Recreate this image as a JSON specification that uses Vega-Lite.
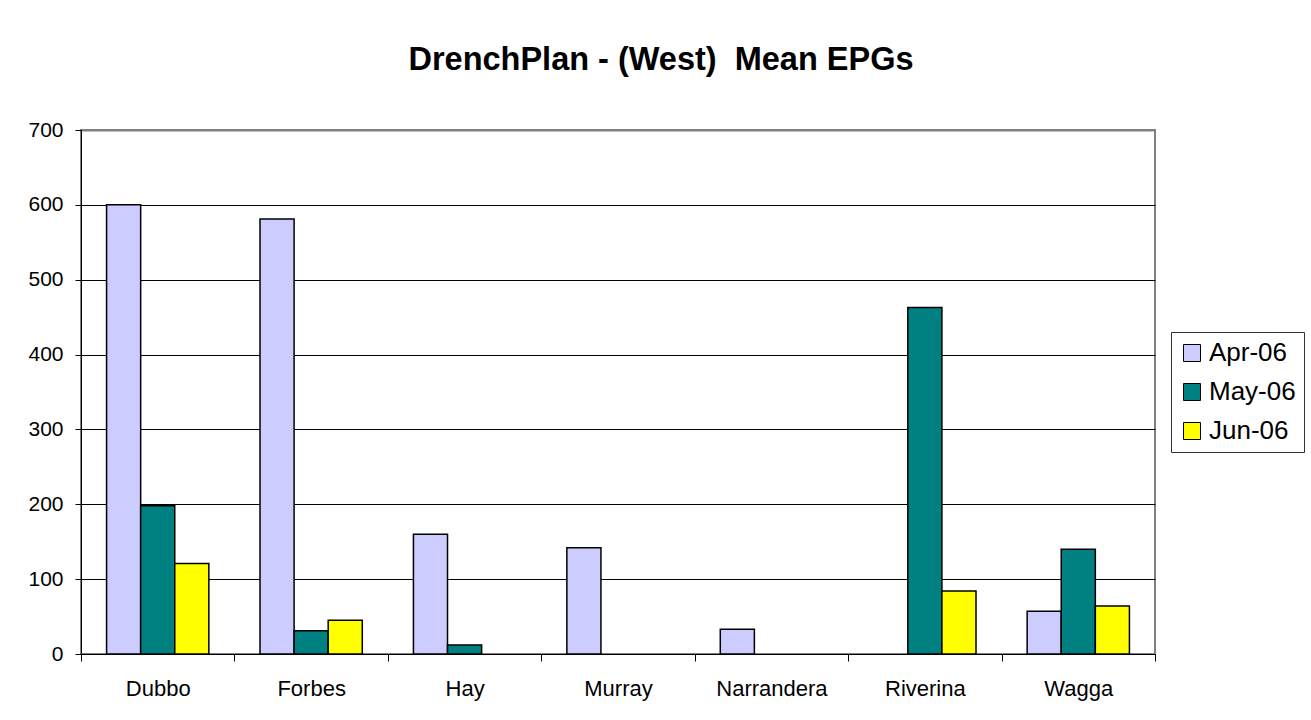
{
  "$schema": "https://vega.github.io/schema/vega-lite/v6.json",
  "width": 1074,
  "height": 524,
  "autosize": {"type": "none"},
  "padding": {"left": 81, "top": 130, "right": 156, "bottom": 66},
  "background": "white",
  "title": {
    "text": "DrenchPlan - (West)\u00a0 Mean EPGs",
    "font": "Liberation Sans",
    "fontSize": 32.5,
    "fontWeight": "bold",
    "color": "black",
    "anchor": "middle",
    "dx": 43,
    "offset": 43
  },
  "data": {
    "values": [
      {"site": "Dubbo", "month": "Apr-06", "epg": 600},
      {"site": "Dubbo", "month": "May-06", "epg": 198},
      {"site": "Dubbo", "month": "Jun-06", "epg": 121},
      {"site": "Forbes", "month": "Apr-06", "epg": 581},
      {"site": "Forbes", "month": "May-06", "epg": 31},
      {"site": "Forbes", "month": "Jun-06", "epg": 45},
      {"site": "Hay", "month": "Apr-06", "epg": 160},
      {"site": "Hay", "month": "May-06", "epg": 12},
      {"site": "Murray", "month": "Apr-06", "epg": 142},
      {"site": "Narrandera", "month": "Apr-06", "epg": 33},
      {"site": "Riverina", "month": "May-06", "epg": 463},
      {"site": "Riverina", "month": "Jun-06", "epg": 84},
      {"site": "Wagga", "month": "Apr-06", "epg": 57},
      {"site": "Wagga", "month": "May-06", "epg": 140},
      {"site": "Wagga", "month": "Jun-06", "epg": 64}
    ]
  },
  "mark": {"type": "bar", "stroke": "black", "strokeWidth": 1.5},
  "encoding": {
    "x": {
      "field": "site",
      "type": "nominal",
      "sort": ["Dubbo", "Forbes", "Hay", "Murray", "Narrandera", "Riverina", "Wagga"],
      "scale": {"paddingInner": 0, "paddingOuter": 0},
      "axis": {
        "title": null,
        "labelAngle": 0,
        "labelFont": "Liberation Sans",
        "labelFontSize": 22,
        "labelColor": "black",
        "labelPadding": 17,
        "tickBand": "extent",
        "tickSize": 7,
        "tickColor": "black",
        "domainColor": "black",
        "domainWidth": 1,
        "grid": false
      }
    },
    "xOffset": {
      "field": "month",
      "type": "nominal",
      "sort": ["Apr-06", "May-06", "Jun-06"],
      "scale": {"paddingInner": 0, "paddingOuter": 0.75}
    },
    "y": {
      "field": "epg",
      "type": "quantitative",
      "scale": {"domain": [0, 700], "nice": false},
      "axis": {
        "title": null,
        "values": [0, 100, 200, 300, 400, 500, 600, 700],
        "labelFont": "Liberation Sans",
        "labelFontSize": 21,
        "labelColor": "black",
        "labelPadding": 12,
        "tickSize": 6,
        "tickColor": "black",
        "domainColor": "black",
        "grid": true,
        "gridColor": {"condition": {"test": "datum.value === 700", "value": "#808080"}, "value": "black"},
        "gridWidth": {"condition": {"test": "datum.value === 700", "value": 2}, "value": 1},
        "gridOpacity": 1
      }
    },
    "color": {
      "field": "month",
      "type": "nominal",
      "sort": ["Apr-06", "May-06", "Jun-06"],
      "scale": {"domain": ["Apr-06", "May-06", "Jun-06"], "range": ["#CCCCFF", "#008080", "#FFFF00"]},
      "legend": {
        "title": null,
        "orient": "none",
        "legendX": 1090,
        "legendY": 202,
        "symbolType": "square",
        "symbolSize": 289,
        "symbolStrokeColor": "black",
        "symbolStrokeWidth": 1,
        "symbolOpacity": 1,
        "labelFont": "Liberation Sans",
        "labelFontSize": 26,
        "labelColor": "black",
        "rowPadding": 13,
        "padding": 8,
        "fillColor": "white",
        "strokeColor": "#333333",
        "labelOffset": 4
      }
    }
  },
  "config": {
    "view": {"stroke": "#808080", "strokeWidth": 2},
    "axis": {"zindex": 0}
  }
}
